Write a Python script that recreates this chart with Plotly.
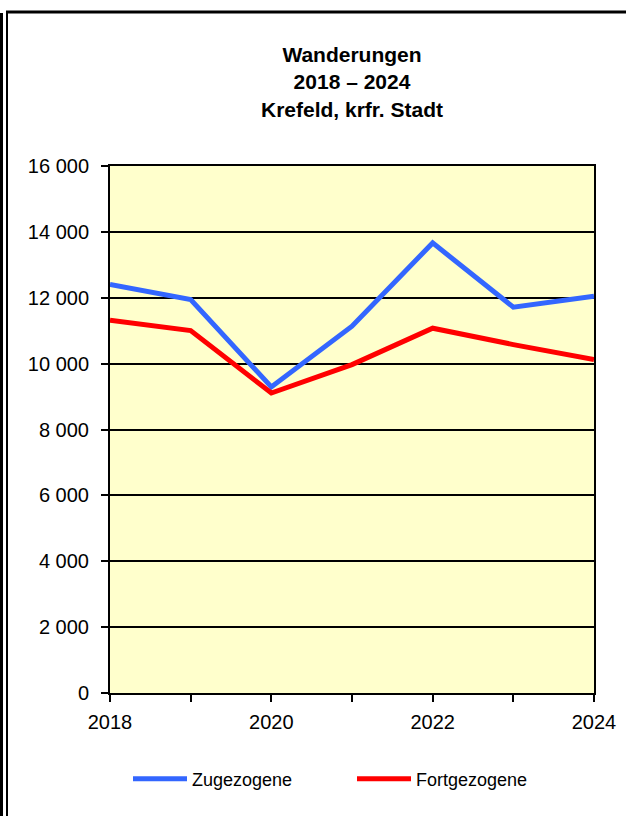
import plotly.graph_objects as go

years = [2018, 2019, 2020, 2021, 2022, 2023, 2024]
zugezogene = [12405, 11948, 9291, 11135, 13665, 11714, 12049]
fortgezogene = [11318, 11005, 9108, 9970, 11075, 10578, 10122]
x_tick_labels = ["2018", "", "2020", "", "2022", "", "2024"]
y_ticks = [0, 2000, 4000, 6000, 8000, 10000, 12000, 14000, 16000]
title_text = "<b>Wanderungen<br>2018 – 2024<br>Krefeld, krfr. Stadt</b>"

W, H = 626, 816
L, R, T, B = 110, 594, 166, 693
pw, ph = R - L, B - T


def px(x):
    return (x - L) / pw


def py(y):
    return (B - y) / ph


fig = go.Figure()
fig.add_trace(go.Scatter(x=years, y=zugezogene, mode="lines", name="Zugezogene",
                         line=dict(color="#3366FF", width=5)))
fig.add_trace(go.Scatter(x=years, y=fortgezogene, mode="lines", name="Fortgezogene",
                         line=dict(color="#FF0000", width=5)))

font_family = "Liberation Sans, Arial, sans-serif"

fig.update_layout(
    width=W, height=H,
    margin=dict(l=L, r=W - R, t=T, b=H - B, pad=0, autoexpand=False),
    paper_bgcolor="white",
    plot_bgcolor="#FFFFCC",
    separators=", ",
    font=dict(family=font_family, color="black", size=20),
    title=dict(text=title_text, x=0.5, xref="paper", xanchor="center",
               y=1 - 62 / H, yanchor="middle",
               font=dict(family=font_family, size=21, color="black")),
    showlegend=True,
    legend=dict(orientation="h", x=px(128), xanchor="left", y=py(779), yanchor="middle",
                font=dict(family=font_family, size=18, color="black"),
                entrywidth=155, entrywidthmode="pixels",
                bgcolor="rgba(0,0,0,0)", itemwidth=54),
    xaxis=dict(range=[2018, 2024], tickvals=years, ticktext=x_tick_labels,
               ticks="outside", ticklen=7, tickwidth=2, tickcolor="black",
               showline=True, linecolor="black", linewidth=2, mirror=True,
               showgrid=False, zeroline=False, ticklabelstandoff=3,
               automargin=False, tickfont=dict(size=20)),
    yaxis=dict(range=[0, 16000], tickvals=y_ticks, tickformat=",d",
               ticks="outside", ticklen=7, tickwidth=2, tickcolor="black",
               showline=True, linecolor="black", linewidth=2, mirror=True,
               showgrid=True, gridcolor="black", gridwidth=2, zeroline=False,
               ticklabelstandoff=8, automargin=False,
               tickfont=dict(size=20)),
)

# outer frame lines
frame = dict(type="line", xref="paper", yref="paper", layer="above")
fig.add_shape(**frame, x0=px(1.5), x1=px(1.5), y0=py(13), y1=py(816),
              line=dict(color="black", width=3))
fig.add_shape(**frame, x0=px(7), x1=px(7), y0=py(12), y1=py(816),
              line=dict(color="black", width=2))
fig.add_shape(**frame, x0=px(6), x1=px(626), y0=py(12), y1=py(12),
              line=dict(color="black", width=3))

fig.write_html("out.html", config={"displayModeBar": False},
               post_script="document.body.style.margin='0';document.body.style.overflow='hidden';")
